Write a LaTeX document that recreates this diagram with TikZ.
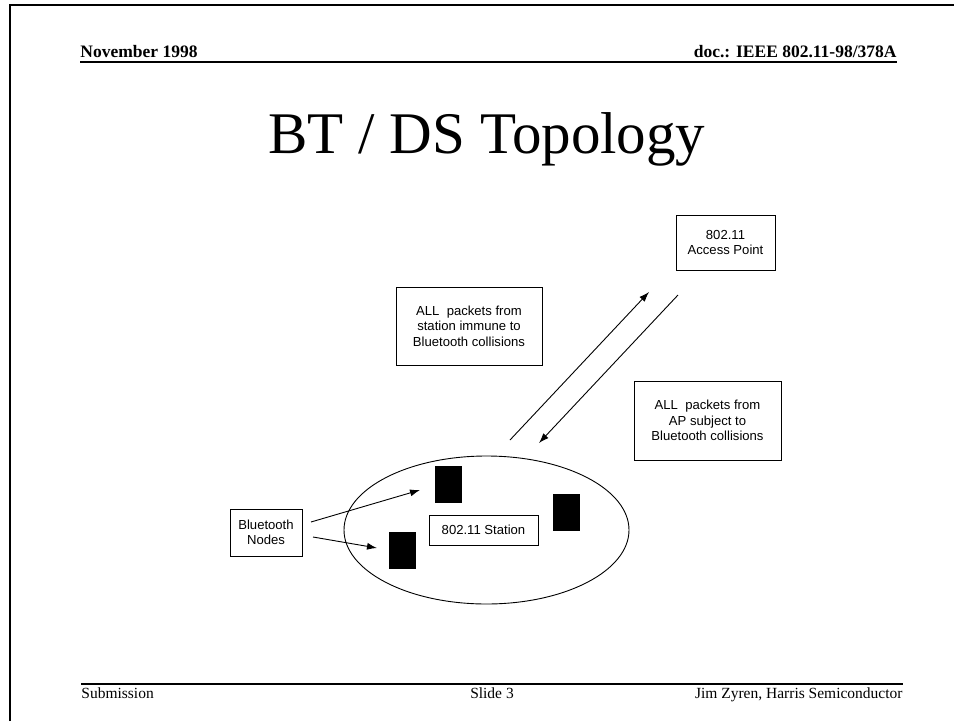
\documentclass[tikz,border=0pt]{standalone}
\usepackage{fontspec}
\setmainfont{Liberation Serif}
\newfontfamily\arialfont{Liberation Sans}
\usetikzlibrary{positioning, arrows.meta, shapes.geometric}

\begin{document}
\begin{tikzpicture}[x=1pt, y=-1pt, >={Latex[length=10pt, width=7pt]}, line width=0.9pt,
  box/.style={draw, align=center, inner sep=0pt, font=\arialfont\fontsize{13.1}{15.5}\selectfont},
  btdev/.style={fill=black, minimum width=27pt, minimum height=37pt, inner sep=0pt},
  hdr/.style={inner sep=0pt, font=\bfseries\fontsize{17.5}{20}\selectfont},
  ftr/.style={inner sep=0pt, font=\fontsize{15.5}{18}\selectfont}]
  \useasboundingbox (0,0) rectangle (954,721);
  % slide frame
  \draw[line width=2.5pt] (10,721) -- (10,5) -- (954,5);
  % header and footer
  \node[hdr, anchor=base west] (date) at (80,57) {November 1998};
  \node[hdr, anchor=base east] (doc) at (897,57) {doc.: IEEE 802.11-98/378A};
  \draw[line width=1.5pt] (80,62) -- (897,62);
  \node[inner sep=0pt, font=\fontsize{59}{70}\selectfont, anchor=base] (title) at (487,153) {BT / DS Topology};
  \draw[line width=1.5pt] (81,684) -- (903,684);
  \node[ftr, anchor=base west] (sub) at (81,698) {Submission};
  \node[ftr, anchor=base] (slide) at (492,698) {Slide 3};
  \node[ftr, anchor=base east] (auth) at (903,698) {Jim Zyren, Harris Semiconductor};

  % access point and the two notes
  \node[box, minimum width=99pt, minimum height=55pt] (ap) at (725.5,242.5) {802.11\\ Access Point};
  \node[box, minimum width=146pt, minimum height=78pt] (up) at (469,326) {ALL~ packets from\\ station immune to\\ Bluetooth collisions};
  \node[box, minimum width=147pt, minimum height=79pt] (down) at (707.5,420.5) {ALL~ packets from\\ AP subject to\\ Bluetooth collisions};

  % station cell
  \node[draw, ellipse, minimum width=285pt, minimum height=148pt, inner sep=0pt] (cell) at (486.5,530) {};
  \node[box, minimum width=109pt, minimum height=30pt] (sta) at (483.5,530) {802.11 Station};
  \node[btdev] (bt1) at (448.5,484.5) {};
  \node[btdev] (bt2) at (566.5,512) {};
  \node[btdev] (bt3) at (402,550.5) {};
  \node[box, minimum width=72pt, minimum height=47pt] (btn) at (266,532.5) {Bluetooth\\ Nodes};

  % links
  \coordinate (upS) at (510,440);
  \coordinate (upE) at (649,292);
  \coordinate (dnS) at (678,295);
  \coordinate (dnE) at (539,443);
  \draw[->] (upS) -- (upE);
  \draw[->] (dnS) -- (dnE);
  \coordinate (b1S) at (311,522);
  \coordinate (b1E) at (420,490);
  \coordinate (b2S) at (313,537);
  \coordinate (b2E) at (377,548);
  \draw[->] (b1S) -- (b1E);
  \draw[->] (b2S) -- (b2E);
\end{tikzpicture}
\end{document}
